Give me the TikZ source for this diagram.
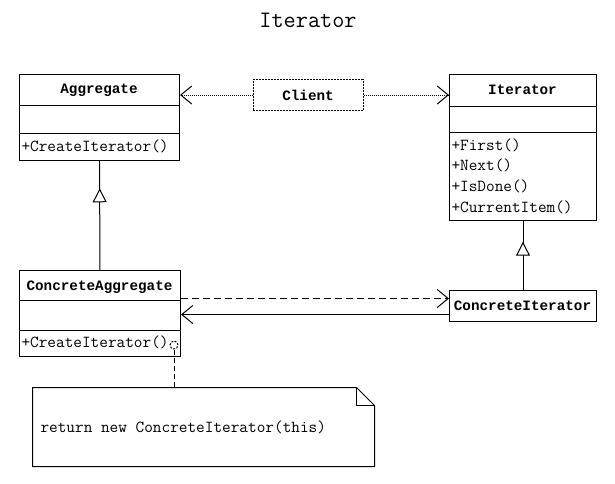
\documentclass[tikz,border=0pt]{standalone}
\usepackage{fontspec}
\setmainfont{Liberation Mono}
\usetikzlibrary{arrows.meta,decorations.markings}

\begin{document}
\begin{tikzpicture}[x=1pt,y=-1pt,line width=1pt,
  every node/.style={font=\ttfamily\fontsize{16.8}{17}\selectfont,inner sep=0pt}]
  \tikzstyle{classbox}=[draw,rectangle,anchor=north west]
  \tikzstyle{cname}=[font=\rmfamily\fontsize{14.3}{17}\selectfont\bfseries]
  \tikzstyle{member}=[anchor=west]
  \tikzstyle{assoc}=[-{Straight Barb[length=11pt,width=18pt]}]
  \tikzstyle{depend}=[assoc,dash pattern=on 7pt off 4pt]
  \tikzstyle{usedep}=[assoc,dash pattern=on 1pt off 1pt]
  \tikzstyle{inherit}=[postaction=decorate,decoration={markings,
      mark=at position #1 with {\arrow{Triangle[fill=white,length=14pt,width=14pt]}}}]
  \useasboundingbox (0,0) rectangle (615,483);
  \node[font=\ttfamily\fontsize{23.6}{26}\selectfont] (title) at (308,20) {Iterator};
  % classes
  \node[classbox,minimum width=160pt,minimum height=86pt] (agg) at (19,74) {};
  \draw (19,105) -- (179,105) (19,133) -- (179,133);
  \node[cname] (aggname) at (99,90) {Aggregate};
  \node[member] (aggop) at (21,146) {+CreateIterator()};
  \node[classbox,minimum width=147pt,minimum height=146pt] (it) at (449,74) {};
  \draw (449,106) -- (596,106) (449,132) -- (596,132);
  \node[cname] (itname) at (522.5,90) {Iterator};
  \node[member] (itfirst) at (451,145) {+First()};
  \node[member] (itnext) at (451,165) {+Next()};
  \node[member] (itdone) at (451,186) {+IsDone()};
  \node[member] (itcur) at (451,207) {+CurrentItem()};
  \node[classbox,minimum width=161pt,minimum height=86pt] (ca) at (19,270) {};
  \draw (19,300) -- (180,300) (19,330) -- (180,330);
  \node[cname] (caname) at (99.5,287) {ConcreteAggregate};
  \node[member] (caop) at (21,342) {+CreateIterator()};
  \node[classbox,minimum width=147pt,minimum height=31pt] (ci) at (449,290) {};
  \node[cname] (ciname) at (522.5,306) {ConcreteIterator};
  \node[draw,dash pattern=on 2pt off 1pt,minimum width=110pt,minimum height=31pt,cname] (client) at (308,95) {Client};
  % note
  \node[minimum width=341pt,minimum height=78pt] (note) at (203.5,427) {};
  \draw (note.north west) -- ([xshift=-18pt]note.north east) -- ([yshift=-18pt]note.north east)
        -- (note.south east) -- (note.south west) -- cycle;
  \draw ([xshift=-18pt]note.north east) -- ([xshift=-18pt,yshift=-18pt]note.north east)
        -- ([yshift=-18pt]note.north east);
  \node[member] (notetext) at (40,427) {return new ConcreteIterator(this)};
  \node[circle,draw,dash pattern=on 2pt off 1.5pt,minimum size=8pt] (hook) at (174,345) {};
  % connectors
  \draw[usedep] (client) -- (client -| agg.east);
  \draw[usedep] (client) -- (client -| it.west);
  \draw[inherit=0.75] (ca) -- (agg);
  \draw[inherit=0.70] (ci) -- (it);
  \draw[depend] ([yshift=7.5pt]ci.west -| ca.east) -- ([yshift=7.5pt]ci.west);
  \draw[assoc] ([yshift=-8.5pt]ci.west) -- ([yshift=-8.5pt]ci.west -| ca.east);
  \draw[dash pattern=on 5pt off 3pt] (hook) -- (hook |- note.north);
\end{tikzpicture}
\end{document}
